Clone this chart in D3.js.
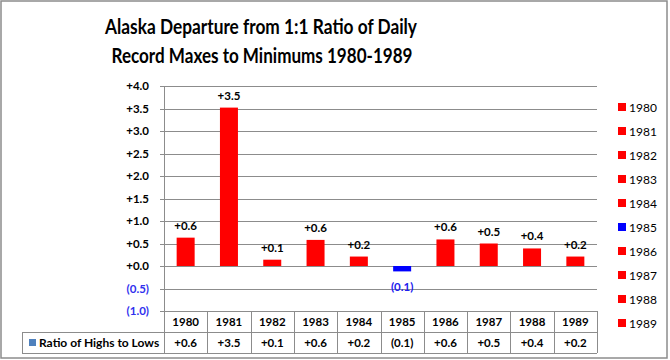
<!DOCTYPE html>
<html><head><meta charset="utf-8">
<script src="https://cdn.jsdelivr.net/npm/d3@7"></script>
<style>body{margin:0;background:#fff}svg{display:block}text{font-family:Lato,"Open Sans",sans-serif}</style>
</head><body><svg id="c" width="670" height="360"></svg>
<script>
const years = ["1980","1981","1982","1983","1984","1985","1986","1987","1988","1989"];
const values = [0.63, 3.52, 0.14, 0.58, 0.21, -0.12, 0.59, 0.50, 0.39, 0.21];
const yTicks = [-1.0, -0.5, 0, 0.5, 1.0, 1.5, 2.0, 2.5, 3.0, 3.5, 4.0];
const titleLines = ["Alaska Departure from 1:1 Ratio of Daily", "Record Maxes to Minimums 1980-1989"];
const seriesName = "Ratio of Highs to Lows";

(function(){
const fmt = v => v < 0 ? "(" + d3.format(".1f")(-v) + ")" : "+" + d3.format(".1f")(v);
const posColor = "#ff0000", negColor = "#0000ff", gridColor = "#8c8c8c";
const colorOf = v => v < 0 ? negColor : posColor;

const svg = d3.select("#c");
svg.append("rect").attr("x",1).attr("y",1).attr("width",666).attr("height",357)
  .attr("fill","#fff").attr("stroke","#8c8c8c").attr("stroke-width",1.5);

// title
const tl = [{t:titleLines[0], y:34, w:312, cx:261},{t:titleLines[1], y:63, w:301, cx:262}];
svg.selectAll("text.title").data(tl).join("text").attr("class","title")
  .attr("x",d=>d.cx).attr("y",d=>d.y).attr("text-anchor","middle")
  .attr("font-size",21).attr("font-weight","bold").attr("fill","#000")
  .attr("textLength",d=>d.w).attr("lengthAdjust","spacingAndGlyphs").text(d=>d.t);

const pLeft = 164, pRight = 597, pTop = 86, pBottom = 311;
const y = d3.scaleLinear().domain([-1, 4]).range([pBottom, pTop]);
const x = d3.scaleBand().domain(years).range([pLeft, pRight]).padding(0);
const bw = 18;

// gridlines
svg.append("g").selectAll("line").data(yTicks).join("line")
  .attr("x1", pLeft - 4).attr("x2", pRight)
  .attr("y1", d => Math.round(y(d)) + 0.5).attr("y2", d => Math.round(y(d)) + 0.5)
  .attr("stroke", gridColor).attr("stroke-width", 1);
svg.append("line").attr("x1",pLeft+0.5).attr("x2",pLeft+0.5).attr("y1",pTop).attr("y2",pBottom)
  .attr("stroke",gridColor);

// y tick labels
svg.append("g").selectAll("text").data(yTicks).join("text")
  .attr("x", 149).attr("y", d => y(d) + 4).attr("text-anchor","end")
  .attr("font-size",11.5).attr("font-weight","bold")
  .attr("fill", d => d < 0 ? "#3030ee" : "#000").text(fmt);

// bars
const data = years.map((yr,i)=>({yr, v: values[i]}));
svg.append("g").selectAll("rect").data(data).join("rect")
  .attr("x", d => x(d.yr) + x.bandwidth()/2 - bw/2).attr("width", bw)
  .attr("y", d => y(Math.max(0, d.v))).attr("height", d => Math.abs(y(d.v) - y(0)))
  .attr("fill", d => colorOf(d.v));

// bar labels
svg.append("g").selectAll("text").data(data).join("text")
  .attr("x", d => x(d.yr) + x.bandwidth()/2)
  .attr("y", d => d.v >= 0 ? y(d.v) - 8 : y(d.v) + 20)
  .attr("text-anchor","middle").attr("font-size",11.5).attr("font-weight","bold")
  .attr("fill", d => d.v < 0 ? "#2020ee" : "#000").text(d => fmt(d.v));

// data table
const r1 = 311, r2 = 332, r3 = 353, tblLeft = 22;
const tg = svg.append("g").attr("stroke", gridColor).attr("stroke-width",1);
tg.append("line").attr("x1",pLeft).attr("x2",pRight).attr("y1",r1+0.5).attr("y2",r1+0.5);
tg.append("line").attr("x1",tblLeft).attr("x2",pRight).attr("y1",r2+0.5).attr("y2",r2+0.5);
tg.append("line").attr("x1",tblLeft).attr("x2",pRight).attr("y1",r3+0.5).attr("y2",r3+0.5);
tg.append("line").attr("x1",tblLeft+0.5).attr("x2",tblLeft+0.5).attr("y1",r2).attr("y2",r3);
tg.selectAll("line.v").data(years.concat(["end"])).join("line").attr("class","v")
  .attr("x1",(d,i)=>Math.round(pLeft + i*x.bandwidth())+0.5)
  .attr("x2",(d,i)=>Math.round(pLeft + i*x.bandwidth())+0.5)
  .attr("y1",r1).attr("y2",r3);

svg.append("g").selectAll("text").data(years).join("text")
  .attr("x", d => x(d) + x.bandwidth()/2).attr("y", r1 + 15).attr("text-anchor","middle")
  .attr("font-size",11.5).attr("font-weight","bold").attr("fill","#000").text(d=>d);
svg.append("g").selectAll("text").data(data).join("text")
  .attr("x", d => x(d.yr) + x.bandwidth()/2).attr("y", r2 + 15).attr("text-anchor","middle")
  .attr("font-size",11.5).attr("font-weight","bold").attr("fill","#000").text(d=>fmt(d.v));
svg.append("rect").attr("x",29).attr("y",r2+7).attr("width",7).attr("height",7).attr("fill","#4f81bd");
svg.append("text").attr("x",39).attr("y",r2+15).attr("font-size",12).attr("font-weight","bold")
  .attr("fill","#000").text(seriesName);

// right legend
const lg = svg.append("g").selectAll("g").data(data).join("g")
  .attr("transform",(d,i)=>`translate(618,${107 + i*24})`);
lg.append("rect").attr("x",0).attr("y",-4).attr("width",8).attr("height",8).attr("fill",d=>colorOf(d.v));
lg.append("text").attr("x",11).attr("y",4.5).attr("font-size",12).attr("fill","#000").text(d=>d.yr);
})();
</script></body></html>
